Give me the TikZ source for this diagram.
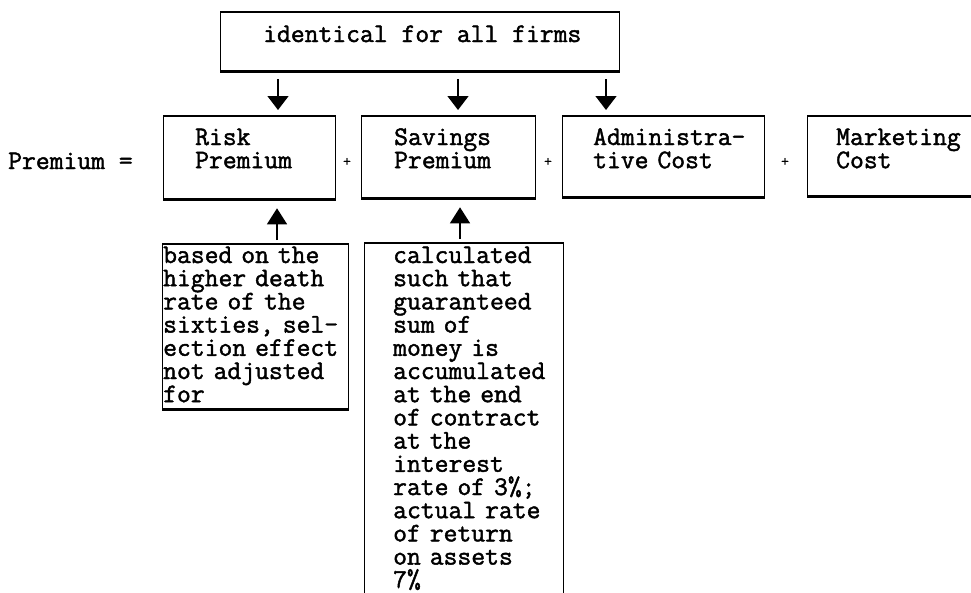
\documentclass[tikz,border=0pt]{standalone}
\usepackage{fontspec}
\newfontfamily\typewriter{Latin Modern Mono}[FakeBold=1.6]
\usetikzlibrary{arrows.meta}

\begin{document}
\begin{tikzpicture}[x=1pt, y=-1pt,
  every node/.style={font=\typewriter\fontsize{26.86}{23.2}\selectfont},
  frame/.style={draw, line width=1.3pt, inner sep=0pt, anchor=north west,
    append after command={
      (\tikzlastnode.north west) edge[line width=2.2pt] (\tikzlastnode.north east)
      (\tikzlastnode.south west) edge[line width=2.8pt] (\tikzlastnode.south east)}},
  oneline/.style={anchor=base west, inner sep=0pt},
  words/.style={anchor=base west, inner sep=0pt, align=left, text width=#1},
  words/.default=220pt,
  plus/.style={inner sep=0pt, font=\typewriter\fontsize{15}{15}\selectfont},
  downarrow/.style={line width=1.4pt, -{Triangle[width=21pt,length=14pt]},
    shorten <=8pt, shorten >=6pt},
  uparrow/.style={line width=1.4pt, -{Triangle[width=20pt,length=16pt]},
    shorten <=4pt, shorten >=9pt}]

  \useasboundingbox (0,0) rectangle (971,592);
  \clip (0,0) rectangle (971,592);

  % frames
  \node[frame, minimum width=399pt, minimum height=58pt] (top) at (220,12) {};
  \node[frame, minimum width=172pt, minimum height=82pt] (risk) at (163,116) {};
  \node[frame, minimum width=174pt, minimum height=81pt] (savings) at (361,116) {};
  \node[frame, minimum width=202pt, minimum height=80pt] (admin) at (562,116) {};
  \node[frame, minimum width=200pt, minimum height=79pt] (market) at (807,116) {};
  \node[frame, minimum width=186pt, minimum height=164pt] (riskbasis) at (162,244) {};
  \node[frame, minimum width=199pt, minimum height=400pt] (savingsbasis) at (364,243) {};

  % texts
  \node[oneline] (toptext) at (263,42) {identical for all firms};
  \node[oneline] (lhs) at (8,169) {Premium =};
  \node[words=160pt] (risktext) at (195,145) {Risk\\Premium};
  \node[words=160pt] (savingstext) at (394,145) {Savings\\Premium};
  \node[words=200pt] (admintext) at (593,145) {Administra-\\tive Cost};
  \node[words=160pt] (markettext) at (836,145) {Marketing\\Cost};
  \node[words=200pt] (riskbasistext) at (163,263) {based on the\\higher death\\rate of the\\sixties, sel-\\ection effect\\not adjusted\\for};
  \node[words=200pt] (savingsbasistext) at (393,263) {calculated\\such that\\guaranteed\\sum of\\money is\\accumulated\\at the end\\of contract\\at the\\interest\\rate of 3\%;\\actual rate\\of return\\on assets\\7\%};

  % plus signs between the components
  \node[plus] (p1) at (347,162) {+};
  \node[plus] (p2) at (548,162) {+};
  \node[plus] (p3) at (785,162) {+};

  % arrow positions
  \coordinate (d1) at (278,0);
  \coordinate (d2) at (458,0);
  \coordinate (d3) at (606,0);
  \coordinate (u1) at (277,0);
  \coordinate (u2) at (460,0);

  \draw[downarrow] (top.south -| d1) -- (risk.north -| d1);
  \draw[downarrow] (top.south -| d2) -- (savings.north -| d2);
  \draw[downarrow] (top.south -| d3) -- (admin.north -| d3);
  \draw[uparrow] (riskbasis.north -| u1) -- (risk.south -| u1);
  \draw[uparrow] (savingsbasis.north -| u2) -- (savings.south -| u2);
\end{tikzpicture}
\end{document}
